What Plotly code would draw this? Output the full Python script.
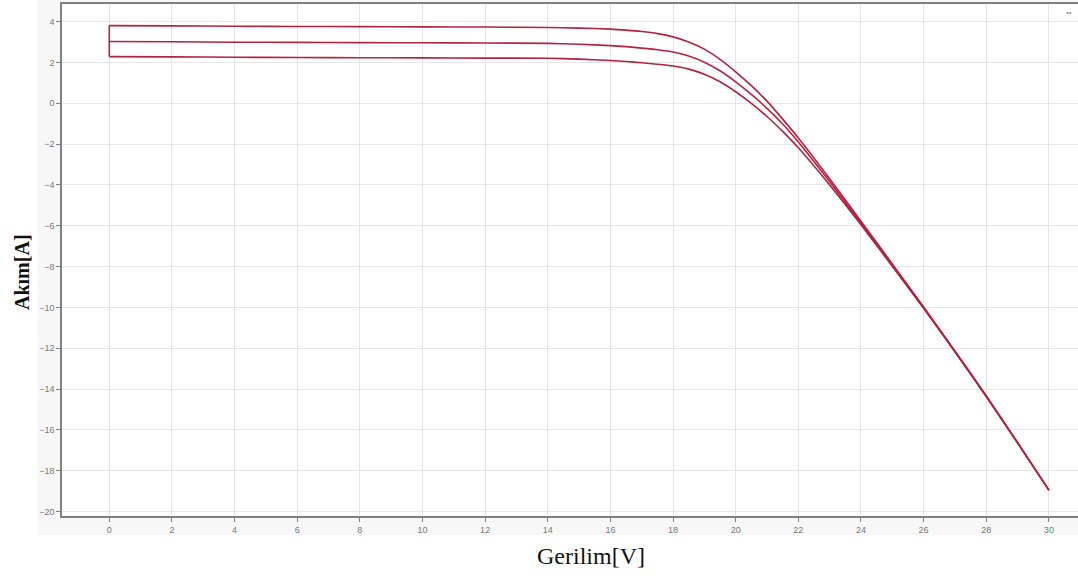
import plotly.graph_objects as go

# Voltage (V) sample points
voltage = [0, 2, 4, 6, 8, 10, 12, 14, 15, 16, 16.5, 17, 17.5, 18, 18.5, 19, 19.5, 20,
           20.5, 21, 21.5, 22, 23, 24, 25, 26, 27, 28, 29, 30]

# Current (A) for three irradiance levels
current_high = [3.80, 3.79, 3.77, 3.76, 3.75, 3.74, 3.73, 3.71, 3.68, 3.63, 3.58, 3.51, 3.41,
                3.25, 3.00, 2.65, 2.15, 1.54, 0.86, 0.10, -0.78, -1.70, -3.70, -5.78, -7.87,
                -9.98, -12.13, -14.33, -16.62, -18.95]
current_mid = [3.02, 3.01, 2.99, 2.98, 2.97, 2.96, 2.95, 2.93, 2.89, 2.82, 2.77, 2.70, 2.62,
               2.51, 2.31, 2.01, 1.59, 1.05, 0.43, -0.25, -1.02, -1.90, -3.84, -5.86, -7.93,
               -10.02, -12.16, -14.36, -16.63, -18.95]
current_low = [2.28, 2.27, 2.25, 2.24, 2.23, 2.22, 2.21, 2.20, 2.16, 2.09, 2.04, 1.98, 1.91,
               1.82, 1.67, 1.42, 1.05, 0.56, -0.01, -0.65, -1.38, -2.18, -4.00, -5.95, -7.99,
               -10.05, -12.17, -14.37, -16.64, -18.95]

x_ticks = list(range(0, 31, 2))
y_ticks = list(range(-20, 5, 2))

LINE = "#b3223f"

fig = go.Figure()
for ys in (current_high, current_mid, current_low):
    fig.add_trace(go.Scatter(x=voltage, y=ys, mode="lines", line_shape="spline",
                             line=dict(color=LINE, width=1.6, smoothing=0.6),
                             showlegend=False, hoverinfo="x+y"))
# vertical connector at V = 0
fig.add_trace(go.Scatter(x=[voltage[0], voltage[0]], y=[current_low[0], current_high[0]],
                         mode="lines", line=dict(color=LINE, width=1.6), showlegend=False))

fig.update_layout(
    width=1078, height=584,
    margin=dict(l=62, r=0, t=4, b=68),
    paper_bgcolor="white", plot_bgcolor="white",
    font=dict(family="Liberation Sans, Arial, sans-serif", size=9, color="#666"),
    shapes=[
        dict(type="rect", xref="paper", yref="paper", x0=-25/1016, x1=1.0,
             y0=-19/512, y1=4/512 + 1.0, fillcolor="#f7f7f7", line=dict(width=0),
             layer="below"),
        dict(type="rect", xref="x domain", yref="y domain", x0=0, x1=1, y0=0, y1=1,
             fillcolor="white", line=dict(width=0), layer="below"),
    ],
    xaxis=dict(range=[-1.51, 30.93], tickmode="array", tickvals=x_ticks,
               showgrid=True, gridcolor="#e6e6e6", gridwidth=1,
               zeroline=False, showline=True, linecolor="#808080", linewidth=1.5,
               mirror=True, ticks="outside", ticklen=4, tickcolor="#808080",
               tickfont=dict(size=9, color="#777")),
    yaxis=dict(range=[-20.22, 4.86], tickmode="array", tickvals=y_ticks,
               showgrid=True, gridcolor="#e6e6e6", gridwidth=1,
               zeroline=False, showline=True, linecolor="#808080", linewidth=1.5,
               ticks="outside", ticklen=4, tickcolor="#808080",
               tickfont=dict(size=9, color="#777")),
    annotations=[
        dict(text="Gerilim[V]", xref="paper", yref="paper",
             x=(591 - 62) / 1016, y=-(556 - 516) / 512, xanchor="center", yanchor="middle",
             showarrow=False, font=dict(family="Liberation Serif, Times New Roman, serif",
                                        size=24, color="#111")),
        dict(text="<b>Akım[A]</b>", xref="paper", yref="paper",
             x=-(62 - 22) / 1016, y=(516 - 272) / 512, xanchor="center", yanchor="middle",
             textangle=-90, showarrow=False,
             font=dict(family="Liberation Serif, Times New Roman, serif", size=20,
                       color="#111")),
        dict(text="••", xref="paper", yref="paper", x=1.0 - 4 / 1016, y=1 - 8 / 512,
             xanchor="right", yanchor="middle", showarrow=False,
             font=dict(size=8, color="#999")),
    ],
)

fig.write_html("out.html", config={"displayModeBar": False},
               post_script="document.body.style.margin='0';")
